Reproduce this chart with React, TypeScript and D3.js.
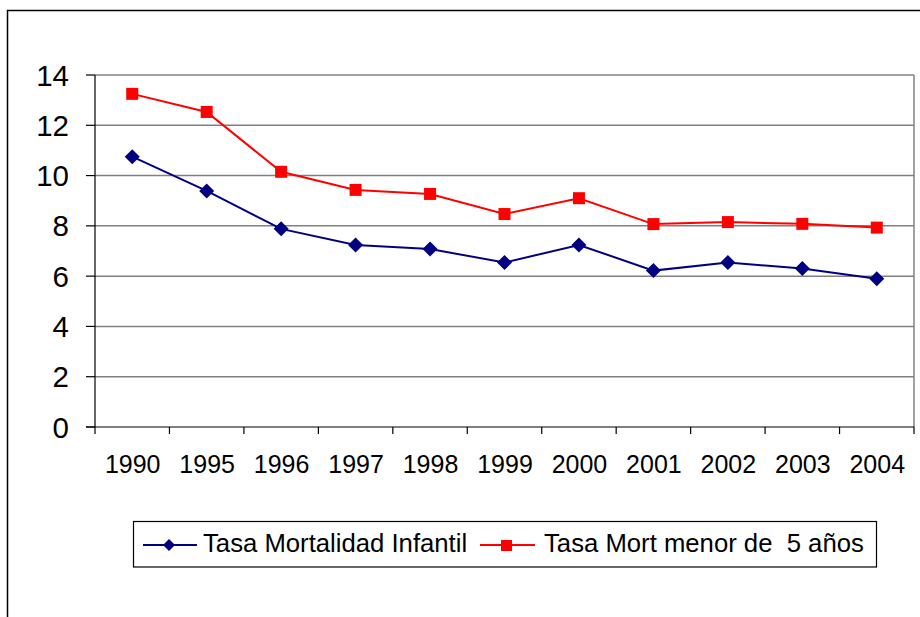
import React from "react";
import * as d3 from "d3";

const years = ["1990", "1995", "1996", "1997", "1998", "1999", "2000", "2001", "2002", "2003", "2004"];
const infantil = [10.75, 9.39, 7.88, 7.24, 7.08, 6.54, 7.24, 6.22, 6.54, 6.3, 5.9];
const menor5 = [13.25, 12.53, 10.15, 9.43, 9.27, 8.47, 9.1, 8.07, 8.15, 8.08, 7.93];
const yTicks = [0, 2, 4, 6, 8, 10, 12, 14];
const seriesNames = ["Tasa Mortalidad Infantil", "Tasa Mort menor de  5 años"];

const W = 920;
const H = 617;
const left = 95;
const right = 914;
const top = 75;
const bottom = 427;
const FONT = "'Liberation Sans', Arial, sans-serif";

function diamond(cx: number, cy: number, r: number) {
  return `M${cx},${cy - r}L${cx + r},${cy}L${cx},${cy + r}L${cx - r},${cy}Z`;
}

export default function App() {
  const x = d3.scaleBand<string>().domain(years).range([left, right]).padding(0);
  const y = d3.scaleLinear().domain([0, 14]).range([bottom, top]);
  const cx = (d: string) => (x(d) as number) + x.bandwidth() / 2;

  const line = d3
    .line<number>()
    .x((_, i) => cx(years[i]))
    .y((v) => y(v));

  const boundaries = years.map((d) => x(d) as number).concat([right]);

  return (
    <svg
      width={W}
      height={H}
      style={{ position: "absolute", left: 0, top: 0, background: "#fff" }}
      fontFamily={FONT}
    >
      <rect x={0} y={0} width={W} height={H} fill="#fff" />
      {/* outer chart frame */}
      <rect x={7.5} y={10.5} width={1000} height={1000} fill="none" stroke="#000" strokeWidth={1.5} />

      {/* gridlines */}
      {yTicks.filter((t) => t > 0).map((t) => (
        <line key={t} x1={left} x2={right} y1={y(t)} y2={y(t)} stroke="#808080" strokeWidth={1.5} />
      ))}
      {/* plot right border */}
      <line x1={right} x2={right} y1={top} y2={bottom} stroke="#808080" strokeWidth={1.5} />

      {/* y axis */}
      <line x1={left} x2={left} y1={top} y2={bottom} stroke="#000" strokeWidth={1.2} />
      {yTicks.map((t) => (
        <g key={t}>
          <line x1={left - 9} x2={left} y1={y(t)} y2={y(t)} stroke="#000" strokeWidth={1.2} />
          <text x={69} y={y(t) + 10.5} fontSize={29.5} textAnchor="end" fill="#000">
            {t}
          </text>
        </g>
      ))}

      {/* x axis */}
      <line x1={left - 9} x2={right} y1={bottom} y2={bottom} stroke="#000" strokeWidth={1.2} />
      {boundaries.map((b, i) => (
        <line key={i} x1={b} x2={b} y1={bottom} y2={bottom + 7} stroke="#000" strokeWidth={1.2} />
      ))}
      {years.map((d) => (
        <text key={d} x={cx(d) + 0.5} y={473} fontSize={25} textAnchor="middle" fill="#000">
          {d}
        </text>
      ))}

      {/* series lines */}
      <path d={line(menor5) || ""} fill="none" stroke="#ff0000" strokeWidth={2} />
      <path d={line(infantil) || ""} fill="none" stroke="#000080" strokeWidth={2} />
      {menor5.map((v, i) => (
        <rect key={i} x={cx(years[i]) - 6} y={y(v) - 6} width={12} height={12} fill="#ff0000" />
      ))}
      {infantil.map((v, i) => (
        <path key={i} d={diamond(cx(years[i]), y(v), 7.5)} fill="#000080" />
      ))}

      {/* legend */}
      <rect x={133.5} y={521.5} width={743} height={45.5} fill="#fff" stroke="#000" strokeWidth={1.2} />
      <line x1={143} x2={197} y1={545} y2={545} stroke="#000080" strokeWidth={2} />
      <path d={diamond(169, 545, 6)} fill="#000080" />
      <text x={203} y={552} fontSize={25.7} fill="#000">
        {seriesNames[0]}
      </text>
      <line x1={480} x2={535} y1={545} y2={545} stroke="#ff0000" strokeWidth={2} />
      <rect x={501} y={540} width={11} height={11} fill="#ff0000" />
      <text x={544} y={552} fontSize={25.7} fill="#000" style={{ whiteSpace: "pre" }}>
        {seriesNames[1]}
      </text>
    </svg>
  );
}
